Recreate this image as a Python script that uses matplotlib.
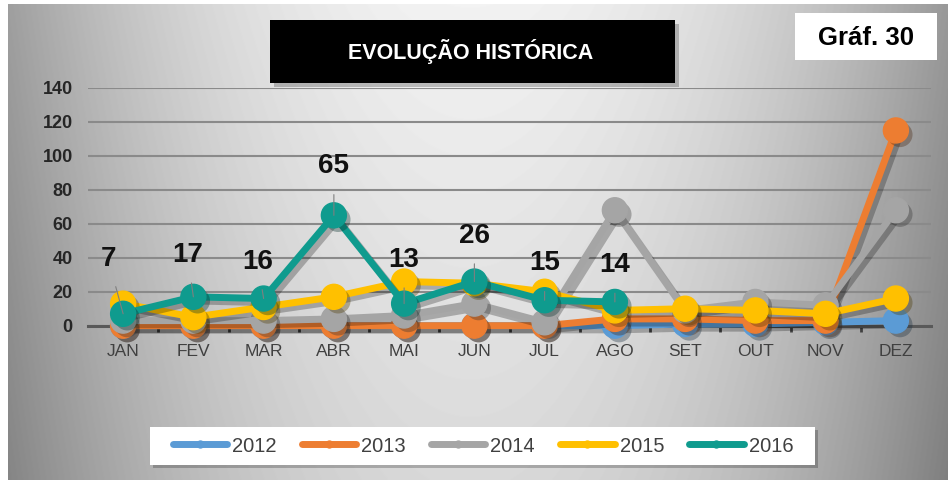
# gráfico "Evolução histórica" (Gráf. 30) - séries mensais 2012 a 2016
import matplotlib
matplotlib.use('Agg')
import matplotlib.pyplot as plt
import matplotlib.patheffects as pe
from matplotlib.patches import Rectangle
from matplotlib.lines import Line2D
import numpy as np

plt.rcParams['font.family'] = ['Liberation Sans', 'DejaVu Sans']

# dados
meses = ['JAN', 'FEV', 'MAR', 'ABR', 'MAI', 'JUN', 'JUL', 'AGO', 'SET', 'OUT', 'NOV', 'DEZ']
anos = ['2012', '2013', '2014', '2015', '2016']
v2012 = [0, 0, 0, 0, 0, 0, 0, 0, 1, 1, 2, 3]
v2013 = [0, 0, 0, 0, 0, 0, 0, 4, 4, 3, 3, 115]
v2014 = [3, 3, 3, 4, 6, 13, 2, 68, 9, 14, 12, 68]
v2015 = [13, 5, 11, 17, 26, 25, 20, 9, 10, 9, 7, 16]
v2016 = [7, 17, 16, 65, 13, 26, 15, 14]   # só até agosto
yticks = [0, 20, 40, 60, 80, 100, 120, 140]

cores = ['#5b9bd5', '#ed7d31', '#a5a5a5', '#ffc000', '#0f9b8e']
series = [v2012, v2013, v2014, v2015, v2016]

# deslocamento (px) dos rótulos de 2016 em relação ao marcador
offsets = [(-15, 55), (-6, 42), (-6, 37), (0, 49), (0, 44), (0, 46), (0, 37), (0, 37)]

W, H = 948, 480
fig = plt.figure(figsize=(W / 100, H / 100), dpi=100, facecolor='white')


def fx(x):
    return x / W


def fy(y):
    return 1 - y / H


def caixa(x0, y0, x1, y1, cor, sombra=4):
    """retângulo em pixels (origem no canto superior esquerdo) com sombra simples"""
    bg.add_patch(Rectangle((fx(x0 + sombra), fy(y1 + sombra)), fx(x1 - x0), (y1 - y0) / H,
                           color='k', alpha=0.22, lw=0))
    bg.add_patch(Rectangle((fx(x0), fy(y1)), fx(x1 - x0), (y1 - y0) / H, color=cor, lw=0))


# fundo em degradê cinza
bg = fig.add_axes([0, 0, 1, 1], zorder=-10)
bg.set_xlim(0, 1)
bg.set_ylim(0, 1)
bg.axis('off')
yy, xx = np.mgrid[0:476, 0:940]
g = 0.95 - 0.34 * ((xx + 8 - 470) / 470) ** 2 - 0.10 * (yy / 476)
bg.imshow(g, cmap='gray', vmin=0, vmax=1, extent=[fx(8), 1, 0, fy(4)], aspect='auto')

# caixa do título
caixa(270, 20, 675, 83, 'black')
bg.text(fx(471), fy(51), 'EVOLUÇÃO HISTÓRICA', color='white', fontsize=15.5,
        fontweight='bold', ha='center', va='center')

# caixa "Gráf. 30"
caixa(795, 13, 937, 60, 'white', sombra=0)
bg.text(fx(866), fy(38), 'Gráf. 30', color='black', fontsize=18.5,
        fontweight='bold', ha='center', va='center')

# caixa da legenda
caixa(150, 427, 815, 465, 'white', sombra=3)

# área do gráfico
ax = fig.add_axes([fx(88), fy(325.7), fx(843), (325.7 - 88) / H])
ax.patch.set_alpha(0)
ax.set_xlim(-0.5, 11.5)
ax.set_ylim(0, 140)
x = np.arange(len(meses))

for i, (nome, vals, cor) in enumerate(zip(anos, series, cores)):
    xi = x[:len(vals)]
    ax.plot(xi, vals, color=cor, lw=5, solid_joinstyle='round', zorder=3 + i * 2,
            clip_on=False,
            path_effects=[pe.SimpleLineShadow(offset=(3, -3), alpha=0.25), pe.Normal()])
    ax.plot(xi, vals, ls='none', marker='o', ms=18, color=cor, zorder=4 + i * 2,
            clip_on=False,
            path_effects=[pe.SimplePatchShadow(offset=(3, -3), alpha=0.35), pe.Normal()])

# rótulos da série 2016
for i, v in enumerate(v2016):
    dx, dy = offsets[i]
    ax.annotate(str(v), xy=(i, v), xytext=(dx * 0.72, dy * 0.72), textcoords='offset points',
                ha='center', va='center', fontsize=20, fontweight='bold', color='#111111',
                arrowprops=dict(arrowstyle='-', color='#7f7f7f', lw=0.8, shrinkA=9, shrinkB=0),
                zorder=20, annotation_clip=False)

ax.set_yticks(yticks)
ax.set_xticks(x)
ax.set_xticklabels(meses)
ax.set_xticks(np.arange(0.5, 11, 1), minor=True)
ax.grid(axis='y', color='#8a8a8a', lw=1.5, zorder=1)
ax.set_axisbelow(True)
for s in ['top', 'right', 'left']:
    ax.spines[s].set_visible(False)
ax.spines['bottom'].set_color('#595959')
ax.spines['bottom'].set_linewidth(2.2)
ax.spines['bottom'].set_zorder(2)
ax.tick_params(axis='y', length=0, pad=11, labelsize=13, labelcolor='#262626')
for t in ax.get_yticklabels():
    t.set_fontweight('bold')
ax.tick_params(axis='x', which='major', length=0, pad=13, labelsize=12.5, labelcolor='#404040')
ax.tick_params(axis='x', which='minor', length=4, width=2, color='#404040', direction='out')

# legenda (sem moldura; a caixa branca foi desenhada acima)
handles = [Line2D([], [], color=c, lw=5, marker='o', ms=5, solid_capstyle='round') for c in cores]
leg = fig.legend(handles, anos, loc='center', bbox_to_anchor=(fx(483), fy(446)), ncol=5,
                 fontsize=14.5, frameon=False, handlelength=2.7, columnspacing=1.25,
                 handletextpad=0.25)
for t in leg.get_texts():
    t.set_color('#404040')

fig.savefig('out.png', dpi=100)
plt.close(fig)
